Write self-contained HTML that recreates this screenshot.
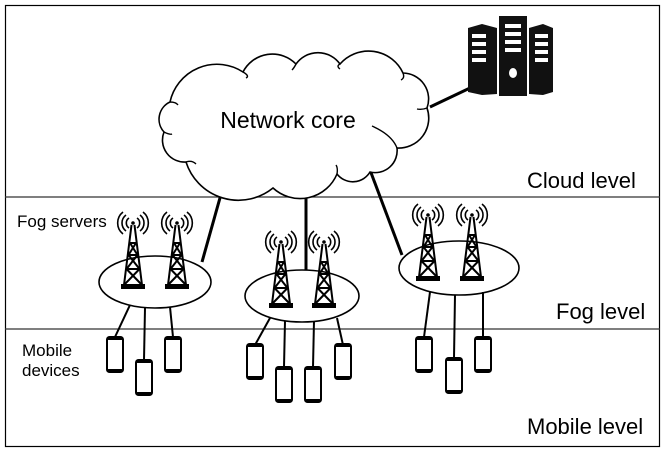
<!DOCTYPE html>
<html><head><meta charset="utf-8"><style>
html,body{margin:0;padding:0;background:#fff}
svg{display:block}
text{font-family:"Liberation Sans",Arial,sans-serif;fill:#000}
</style></head><body>
<svg width="664" height="452" viewBox="0 0 664 452" xmlns="http://www.w3.org/2000/svg">
<defs>
<g id="tw" fill="none" stroke="#000">
  <g stroke-width="1.6">
    <path d="M-4,5 A6,6 0 0 0 -4,15"/><path d="M4,5 A6,6 0 0 1 4,15"/>
    <path d="M-7,2 A10,10 0 0 0 -7,18"/><path d="M7,2 A10,10 0 0 1 7,18"/>
    <path d="M-10,-1 A14,14 0 0 0 -10,21"/><path d="M10,-1 A14,14 0 0 1 10,21"/>
  </g>
  <circle cx="0" cy="10" r="1.8" fill="#000" stroke="none"/>
  <g stroke-width="2">
    <path d="M-1.5,12 L-9,72 M1.5,12 L9,72"/>
    <path d="M-3,30 L3,30 M-4.5,42 L4.5,42 M-6.5,56 L6.5,56"/>
    <path d="M-3,30 L4.5,42 M3,30 L-4.5,42 M-4.5,42 L6.5,56 M4.5,42 L-6.5,56 M-6.5,56 L9,72 M6.5,56 L-9,72"/>
  </g>
  <rect x="-12" y="71" width="24" height="5" fill="#000" stroke="none"/>
</g>
<g id="ph">
  <rect x="0" y="0" width="16" height="35" rx="2.5" fill="#fff" stroke="#000" stroke-width="2"/>
  <rect x="0" y="0" width="16" height="3" rx="1.5" fill="#000"/>
  <rect x="0" y="32" width="16" height="3" rx="1.5" fill="#000"/>
</g>
</defs>
<rect x="5.5" y="5.5" width="654" height="441" fill="none" stroke="#000" stroke-width="1.2"/>
<line x1="5" y1="197" x2="660" y2="197" stroke="#333" stroke-width="1.2"/>
<line x1="5" y1="329" x2="660" y2="329" stroke="#333" stroke-width="1.2"/>

<g stroke="#000" stroke-width="3">
  <line x1="225" y1="180" x2="202" y2="262"/>
  <line x1="306" y1="180" x2="306" y2="270"/>
  <line x1="370" y1="170" x2="402" y2="255"/>
  <line x1="430" y1="107" x2="470" y2="88"/>
</g>

<path d="M170,102 A48,48 0 0 1 243,72 A33,33 0 0 1 296,64 A27,27 0 0 1 340,64 A38,38 0 0 1 403,73 A26,26 0 0 1 427,108 A30,30 0 0 1 397,148 A22,22 0 0 1 370,172 A20,20 0 0 1 337,174 A40,40 0 0 1 273,188 A55,55 0 0 1 186,162 A22,22 0 0 1 164,132 A19,19 0 0 1 170,102 Z" fill="#fff" stroke="#000" stroke-width="1.6"/>
<path d="M170,102 Q176,102 178,105 M243,72 Q250,76 246,78 M296,64 Q294,68 292,70 M340,64 Q336,66 340,69 M403,73 Q405,78 401,80 M427,108 Q422,110 417,109 M397,148 Q392,135 372,126 M186,162 Q192,160 196,164 M164,132 Q170,135 172,134 M337,174 Q338,168 336,165" fill="none" stroke="#000" stroke-width="1.4"/>
<text x="288" y="128" font-size="23" text-anchor="middle">Network core</text>

<g fill="#111">
  <path d="M468,28 L482,24 L497,28 L497,94 L482,95 L468,92 Z"/>
  <rect x="499" y="16" width="28" height="80"/>
  <path d="M529,28 L543,24 L553,28 L553,92 L543,95 L529,94 Z"/>
</g>
<g fill="#fff">
  <rect x="472" y="34" width="14" height="4"/><rect x="472" y="42" width="14" height="4"/><rect x="472" y="50" width="14" height="4"/><rect x="472" y="58" width="14" height="4"/>
  <rect x="505" y="24" width="16" height="4"/><rect x="505" y="32" width="16" height="4"/><rect x="505" y="40" width="16" height="4"/><rect x="505" y="48" width="16" height="4"/>
  <rect x="535" y="34" width="13" height="4"/><rect x="535" y="42" width="13" height="4"/><rect x="535" y="50" width="13" height="4"/><rect x="535" y="58" width="13" height="4"/>
  <ellipse cx="513" cy="73" rx="4" ry="5"/>
</g>

<g fill="none" stroke="#000" stroke-width="1.6">
  <ellipse cx="155" cy="282" rx="56" ry="26"/>
  <ellipse cx="302" cy="296" rx="57" ry="26"/>
  <ellipse cx="459" cy="268" rx="60" ry="27"/>
</g>
<use href="#tw" x="133" y="213"/><use href="#tw" x="177" y="213"/>
<use href="#tw" x="281" y="232"/><use href="#tw" x="324" y="232"/>
<use href="#tw" x="428" y="205"/><use href="#tw" x="472" y="205"/>

<g stroke="#000" stroke-width="2">
  <line x1="130" y1="305" x2="115" y2="337"/><line x1="145" y1="308" x2="144" y2="360"/><line x1="170" y1="307" x2="173" y2="337"/>
  <line x1="270" y1="318" x2="255" y2="345"/><line x1="285" y1="321" x2="284" y2="367"/><line x1="314" y1="321" x2="313" y2="367"/><line x1="337" y1="318" x2="343" y2="345"/>
  <line x1="430" y1="292" x2="424" y2="337"/><line x1="455" y1="295" x2="454" y2="358"/><line x1="483" y1="292" x2="483" y2="337"/>
</g>
<use href="#ph" x="107" y="337"/><use href="#ph" x="136" y="360"/><use href="#ph" x="165" y="337"/>
<use href="#ph" x="247" y="344"/><use href="#ph" x="276" y="367"/><use href="#ph" x="305" y="367"/><use href="#ph" x="335" y="344"/>
<use href="#ph" x="416" y="337"/><use href="#ph" x="446" y="358"/><use href="#ph" x="475" y="337"/>

<text x="17" y="227" font-size="17">Fog servers</text>
<text x="22" y="356" font-size="17">Mobile</text>
<text x="22" y="376" font-size="17">devices</text>
<text x="527" y="188" font-size="22">Cloud level</text>
<text x="556" y="319" font-size="22">Fog level</text>
<text x="527" y="434" font-size="22">Mobile level</text>
</svg>
</body></html>
